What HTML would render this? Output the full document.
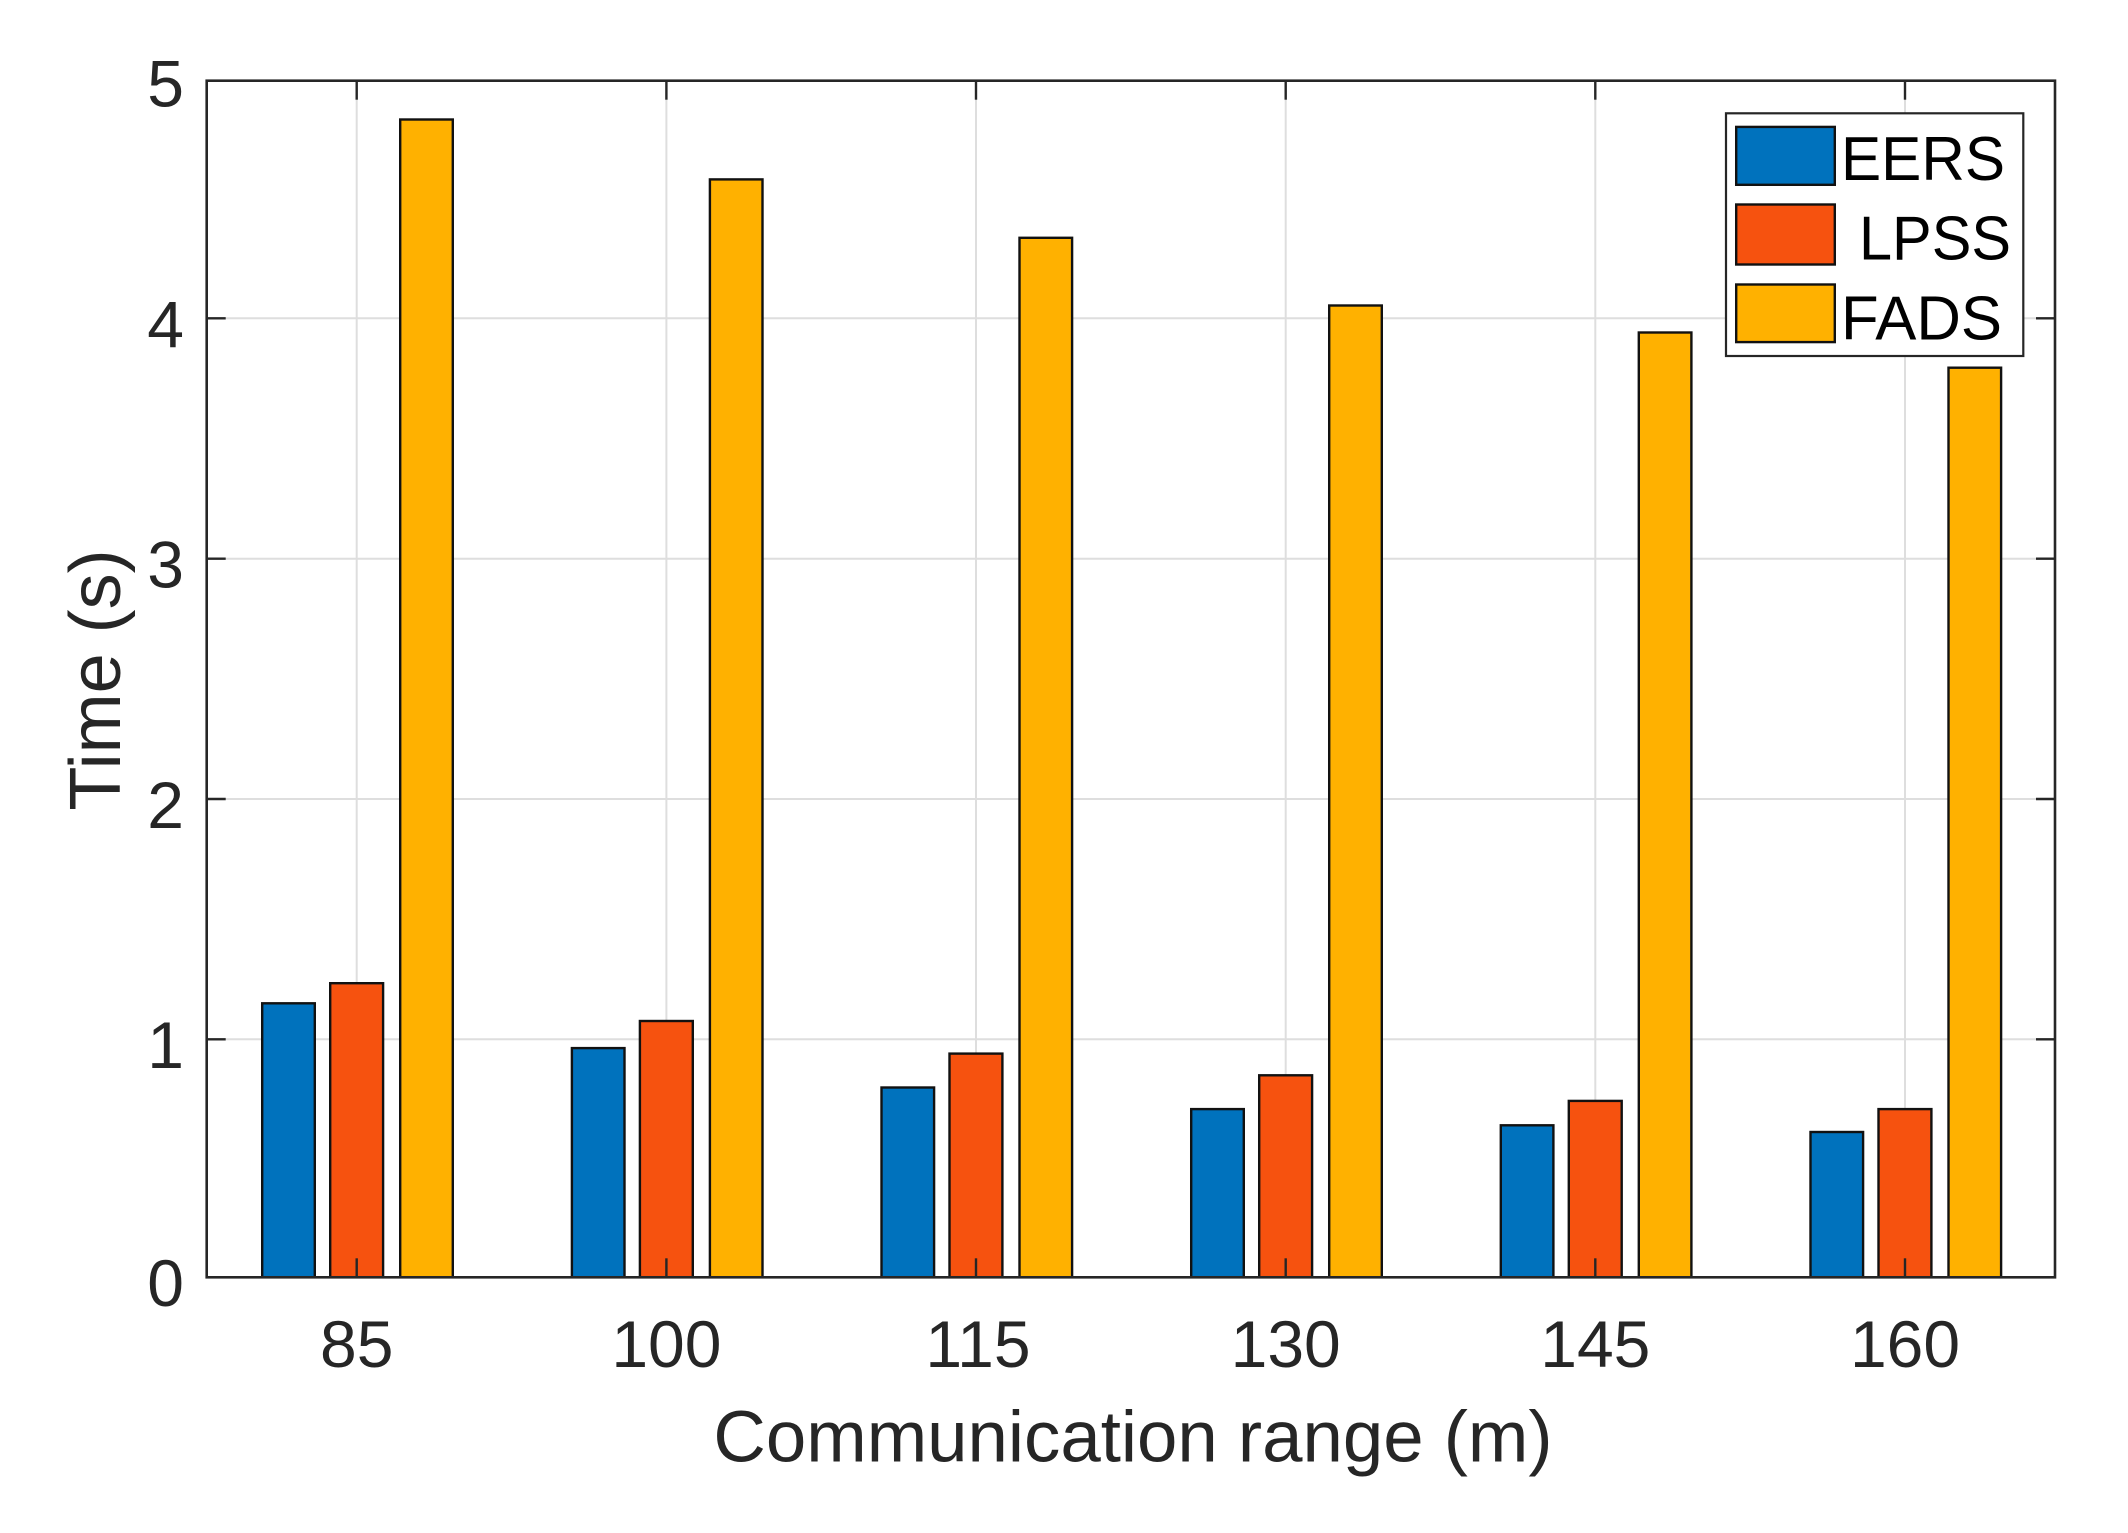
<!DOCTYPE html>
<html>
<head>
<meta charset="utf-8">
<style>
html,body{margin:0;padding:0;background:#fff;}
svg{display:block;}
text{font-family:"Liberation Sans",Arial,Helvetica,sans-serif;}
</style>
</head>
<body>
<svg width="2128" height="1533" viewBox="0 0 2128 1533" xmlns="http://www.w3.org/2000/svg">
<rect x="0" y="0" width="2128" height="1533" fill="#ffffff"/>

<!-- grid -->
<g stroke="#dedede" stroke-width="2" fill="none">
  <line x1="206.7" y1="1039.3" x2="2055" y2="1039.3"/>
  <line x1="206.7" y1="799" x2="2055" y2="799"/>
  <line x1="206.7" y1="558.7" x2="2055" y2="558.7"/>
  <line x1="206.7" y1="318.3" x2="2055" y2="318.3"/>
  <line x1="356.7" y1="80.7" x2="356.7" y2="1277.3"/>
  <line x1="666.4" y1="80.7" x2="666.4" y2="1277.3"/>
  <line x1="976.0" y1="80.7" x2="976.0" y2="1277.3"/>
  <line x1="1285.7" y1="80.7" x2="1285.7" y2="1277.3"/>
  <line x1="1595.3" y1="80.7" x2="1595.3" y2="1277.3"/>
  <line x1="1905.0" y1="80.7" x2="1905.0" y2="1277.3"/>
</g>

<!-- bars -->
<g stroke="#111111" stroke-width="2.4">
  <!-- EERS -->
  <g fill="#0072BD">
    <rect x="262.2" y="1003.3" width="52.6" height="274"/>
    <rect x="571.9" y="1048.1" width="52.6" height="229.2"/>
    <rect x="881.5" y="1087.5" width="52.6" height="189.8"/>
    <rect x="1191.2" y="1109.1" width="52.6" height="168.2"/>
    <rect x="1500.8" y="1125.3" width="52.6" height="152"/>
    <rect x="1810.5" y="1132.0" width="52.6" height="145.3"/>
  </g>
  <!-- LPSS -->
  <g fill="#F6520F">
    <rect x="330.2" y="983.2" width="52.9" height="294.1"/>
    <rect x="639.9" y="1021.0" width="52.9" height="256.3"/>
    <rect x="949.5" y="1053.6" width="52.9" height="223.7"/>
    <rect x="1259.2" y="1075.3" width="52.9" height="202"/>
    <rect x="1568.8" y="1100.9" width="52.9" height="176.4"/>
    <rect x="1878.5" y="1109.1" width="52.9" height="168.2"/>
  </g>
  <!-- FADS -->
  <g fill="#FFB100">
    <rect x="400.2" y="119.5" width="52.6" height="1157.8"/>
    <rect x="709.9" y="179.4" width="52.6" height="1097.9"/>
    <rect x="1019.5" y="237.8" width="52.6" height="1039.5"/>
    <rect x="1329.2" y="305.5" width="52.6" height="971.8"/>
    <rect x="1638.8" y="332.5" width="52.6" height="944.8"/>
    <rect x="1948.5" y="367.7" width="52.6" height="909.6"/>
  </g>
</g>

<!-- ticks -->
<g stroke="#262626" stroke-width="2.4">
  <!-- left -->
  <line x1="206.7" y1="1039.3" x2="225.7" y2="1039.3"/>
  <line x1="206.7" y1="799" x2="225.7" y2="799"/>
  <line x1="206.7" y1="558.7" x2="225.7" y2="558.7"/>
  <line x1="206.7" y1="318.3" x2="225.7" y2="318.3"/>
  <!-- right -->
  <line x1="2036" y1="1039.3" x2="2055" y2="1039.3"/>
  <line x1="2036" y1="799" x2="2055" y2="799"/>
  <line x1="2036" y1="558.7" x2="2055" y2="558.7"/>
  <line x1="2036" y1="318.3" x2="2055" y2="318.3"/>
  <!-- bottom -->
  <line x1="356.7" y1="1258.3" x2="356.7" y2="1277.3"/>
  <line x1="666.4" y1="1258.3" x2="666.4" y2="1277.3"/>
  <line x1="976.0" y1="1258.3" x2="976.0" y2="1277.3"/>
  <line x1="1285.7" y1="1258.3" x2="1285.7" y2="1277.3"/>
  <line x1="1595.3" y1="1258.3" x2="1595.3" y2="1277.3"/>
  <line x1="1905.0" y1="1258.3" x2="1905.0" y2="1277.3"/>
  <!-- top -->
  <line x1="356.7" y1="80.7" x2="356.7" y2="99.7"/>
  <line x1="666.4" y1="80.7" x2="666.4" y2="99.7"/>
  <line x1="976.0" y1="80.7" x2="976.0" y2="99.7"/>
  <line x1="1285.7" y1="80.7" x2="1285.7" y2="99.7"/>
  <line x1="1595.3" y1="80.7" x2="1595.3" y2="99.7"/>
  <line x1="1905.0" y1="80.7" x2="1905.0" y2="99.7"/>
</g>

<!-- axes box -->
<rect x="206.7" y="80.7" width="1848.3" height="1196.6" fill="none" stroke="#262626" stroke-width="2.6"/>

<!-- y tick labels -->
<g font-size="66" fill="#262626" text-anchor="end">
  <text x="184" y="1306">0</text>
  <text x="184" y="1068">1</text>
  <text x="184" y="828">2</text>
  <text x="184" y="587.7">3</text>
  <text x="184" y="347.3">4</text>
  <text x="184" y="106.7">5</text>
</g>

<!-- x tick labels -->
<g font-size="66" fill="#262626" text-anchor="middle">
  <text x="356.7" y="1367">85</text>
  <text x="666.4" y="1367">100</text>
  <text x="978" y="1367">115</text>
  <text x="1285.7" y="1367">130</text>
  <text x="1595.3" y="1367">145</text>
  <text x="1905.0" y="1367">160</text>
</g>

<!-- axis labels -->
<text x="1133" y="1461.7" font-size="72.6" fill="#262626" text-anchor="middle">Communication range (m)</text>
<text transform="translate(120,680) rotate(-90)" x="0" y="0" font-size="72" fill="#262626" text-anchor="middle">Time (s)</text>

<!-- legend -->
<rect x="1726" y="113.3" width="297.3" height="242.7" fill="#ffffff" stroke="#262626" stroke-width="2.2"/>
<g stroke="#111111" stroke-width="2.4">
  <rect x="1736.2" y="126.9" width="98.6" height="57.9" fill="#0072BD"/>
  <rect x="1736.2" y="204.5" width="98.6" height="60" fill="#F6520F"/>
  <rect x="1736.2" y="284.5" width="98.6" height="57.6" fill="#FFB100"/>
</g>
<g font-size="62" fill="#000000">
  <text x="1841" y="180" textLength="164" lengthAdjust="spacingAndGlyphs">EERS</text>
  <text x="1859" y="259.3" textLength="152" lengthAdjust="spacingAndGlyphs">LPSS</text>
  <text x="1841" y="339.3" textLength="161" lengthAdjust="spacingAndGlyphs">FADS</text>
</g>
</svg>
</body>
</html>
